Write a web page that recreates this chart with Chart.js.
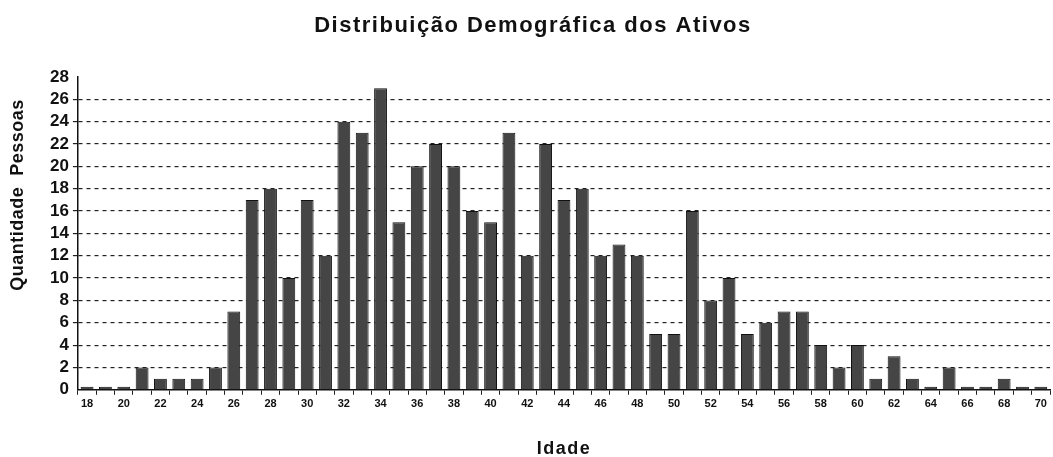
<!DOCTYPE html>
<html>
<head>
<meta charset="utf-8">
<style>
  html, body { margin: 0; padding: 0; background: #fff; }
  canvas { display: block; }
</style>
<script src="https://cdn.jsdelivr.net/npm/chart.js@4/dist/chart.umd.min.js"></script>
</head>
<body>
<canvas id="chart" width="1053" height="457"></canvas>
<script>
// ages 18..70
const ages = [
  18, 19, 20, 21, 22, 23, 24, 25, 26, 27, 28, 29, 30, 31, 32, 33, 34, 35,
  36, 37, 38, 39, 40, 41, 42, 43, 44, 45, 46, 47, 48, 49, 50, 51, 52, 53,
  54, 55, 56, 57, 58, 59, 60, 61, 62, 63, 64, 65, 66, 67, 68, 69, 70
];
const pessoas = [
  0, 0, 0, 2, 1, 1, 1, 2, 7, 17, 18, 10, 17, 12, 24, 23, 27, 15,
  20, 22, 20, 16, 15, 23, 12, 22, 17, 18, 12, 13, 12, 5, 5, 16, 8, 10,
  5, 6, 7, 7, 4, 2, 4, 1, 3, 1, 0, 2, 0, 0, 1, 0, 0
];
const yMax = 28;
const yStep = 2;

const titulo = 'Distribuição Demográfica dos Ativos';
const tituloY = 'Quantidade  Pessoas';
const tituloX = 'Idade';

const fonte = 'Arial, "Liberation Sans", sans-serif';

// titles are drawn by hand so they can sit where the scan puts them
const titulos = {
  id: 'titulos',
  afterDraw(chart) {
    const c = chart.ctx;
    const area = chart.chartArea;
    c.save();
    c.fillStyle = '#111';
    c.textAlign = 'center';
    c.textBaseline = 'middle';
    c.letterSpacing = '1.5px';

    c.font = 'bold 22px ' + fonte;
    c.fillText(titulo, 533, 26);

    c.font = 'bold 18px ' + fonte;
    c.fillText(tituloX, (area.left + area.right) / 2, 449);

    c.translate(18, 195);
    c.rotate(-Math.PI / 2);
    c.letterSpacing = '0.5px';
    c.fillText(tituloY, 0, 0);
    c.restore();
  }
};

const ctx = document.getElementById('chart').getContext('2d');
new Chart(ctx, {
  type: 'bar',
  data: {
    labels: ages,
    datasets: [{
      data: pessoas,
      backgroundColor: '#454545',
      borderColor: '#111',
      borderWidth: 1,
      barPercentage: 0.7,
      categoryPercentage: 1,
      minBarLength: 3
    }]
  },
  plugins: [titulos],
  options: {
    responsive: false,
    animation: false,
    layout: { padding: { left: 46, right: 3, top: 77, bottom: 43 } },
    plugins: {
      legend: { display: false },
      tooltip: { enabled: false },
      title: { display: false }
    },
    scales: {
      x: {
        offset: true,
        grid: { drawOnChartArea: false, drawTicks: true, tickLength: 5, offset: true, color: '#222' },
        border: { color: '#111', width: 1.5 },
        ticks: {
          autoSkip: false,
          maxRotation: 0,
          padding: 3,
          color: '#111',
          font: { family: fonte, size: 11, weight: 'bold' },
          callback: function (v, i) { return i % 2 === 0 ? ages[i] : ''; }
        }
      },
      y: {
        min: 0,
        max: yMax,
        ticks: {
          stepSize: yStep,
          autoSkip: false,
          color: '#111',
          padding: 4,
          font: { family: fonte, size: 17, weight: 'bold', lineHeight: 1 }
        },
        grid: {
          color: function (c) {
            const v = c.tick ? c.tick.value : 0;
            return (v === 0 || v === yMax) ? 'rgba(0,0,0,0)' : '#222';
          },
          drawTicks: true,
          tickLength: 5,
          lineWidth: 1.2
        },
        border: { color: '#111', width: 1.5, dash: [4, 4] }
      }
    }
  }
});
</script>
</body>
</html>
